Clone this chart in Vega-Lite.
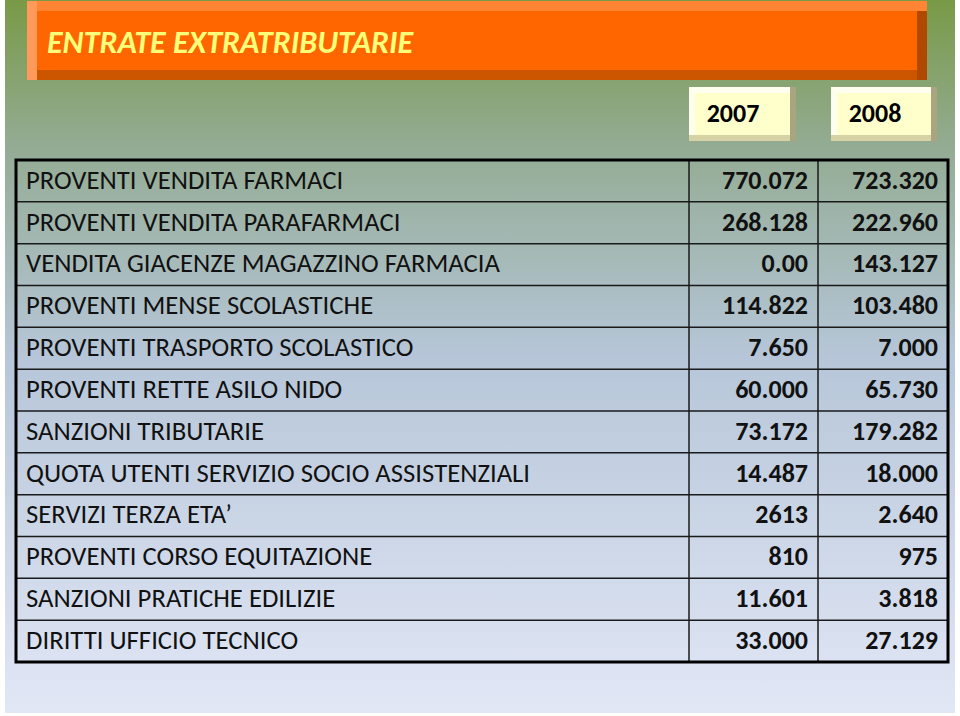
{
  "$schema": "https://vega.github.io/schema/vega-lite/v6.json",
  "width": 960,
  "height": 716,
  "autosize": {"type": "fit", "contains": "padding"},
  "padding": {"left": 5, "right": 5, "top": 0, "bottom": 3},
  "background": "white",
  "config": {"view": {"stroke": null}},
  "data": {"values": [
    {"riga": 1, "voce": "PROVENTI VENDITA FARMACI", "v2007": "770.072", "v2008": "723.320"},
    {"riga": 2, "voce": "PROVENTI VENDITA PARAFARMACI", "v2007": "268.128", "v2008": "222.960"},
    {"riga": 3, "voce": "VENDITA GIACENZE MAGAZZINO FARMACIA", "v2007": "0.00", "v2008": "143.127"},
    {"riga": 4, "voce": "PROVENTI MENSE SCOLASTICHE", "v2007": "114.822", "v2008": "103.480"},
    {"riga": 5, "voce": "PROVENTI TRASPORTO SCOLASTICO", "v2007": "7.650", "v2008": "7.000"},
    {"riga": 6, "voce": "PROVENTI RETTE ASILO NIDO", "v2007": "60.000", "v2008": "65.730"},
    {"riga": 7, "voce": "SANZIONI TRIBUTARIE", "v2007": "73.172", "v2008": "179.282"},
    {"riga": 8, "voce": "QUOTA UTENTI SERVIZIO SOCIO ASSISTENZIALI", "v2007": "14.487", "v2008": "18.000"},
    {"riga": 9, "voce": "SERVIZI TERZA ETA’", "v2007": "2613", "v2008": "2.640"},
    {"riga": 10, "voce": "PROVENTI CORSO EQUITAZIONE", "v2007": "810", "v2008": "975"},
    {"riga": 11, "voce": "SANZIONI PRATICHE EDILIZIE", "v2007": "11.601", "v2008": "3.818"},
    {"riga": 12, "voce": "DIRITTI UFFICIO TECNICO", "v2007": "33.000", "v2008": "27.129"}
  ]},
  "layer": [
    {
      "data": {"values": [{}]},
      "mark": {"type": "rect", "color": {"gradient": "linear", "x1": 0, "y1": 0, "x2": 0, "y2": 1, "stops": [
        {"offset": 0, "color": "#789a46"},
        {"offset": 0.2, "color": "#93ab92"},
        {"offset": 0.5, "color": "#b6c6d8"},
        {"offset": 1, "color": "#e2e7f6"}]}},
      "encoding": {
        "x": {"datum": 5, "type": "quantitative", "scale": {"domain": [5, 955], "nice": false, "zero": false}, "axis": null},
        "x2": {"datum": 955},
        "y": {"datum": -3.825, "type": "quantitative", "scale": {"domain": [-3.825, 13.22], "nice": false, "zero": false, "reverse": true}, "axis": null},
        "y2": {"datum": 13.22}
      }
    },
    {"data": {"values": [{}]}, "mark": {"type": "rect", "color": "#b04800"},
     "encoding": {"x": {"datum": 27, "type": "quantitative"}, "x2": {"datum": 927}, "y": {"datum": -3.801, "type": "quantitative"}, "y2": {"datum": -1.913}}},
    {"data": {"values": [{}]}, "mark": {"type": "rect", "color": "#cc5500"},
     "encoding": {"x": {"datum": 27, "type": "quantitative"}, "x2": {"datum": 917}, "y": {"datum": -2.152, "type": "quantitative"}, "y2": {"datum": -1.913}}},
    {"data": {"values": [{}]}, "mark": {"type": "rect", "color": "#ff8535"},
     "encoding": {"x": {"datum": 27, "type": "quantitative"}, "x2": {"datum": 927}, "y": {"datum": -3.801, "type": "quantitative"}, "y2": {"datum": -3.562}}},
    {"data": {"values": [{}]}, "mark": {"type": "rect", "color": "#ff9a5a"},
     "encoding": {"x": {"datum": 27, "type": "quantitative"}, "x2": {"datum": 37}, "y": {"datum": -3.801, "type": "quantitative"}, "y2": {"datum": -1.913}}},
    {"data": {"values": [{}]}, "mark": {"type": "rect", "color": "#ff6600"},
     "encoding": {"x": {"datum": 37, "type": "quantitative"}, "x2": {"datum": 917}, "y": {"datum": -3.562, "type": "quantitative"}, "y2": {"datum": -2.152}}},
    {"data": {"values": [{}]}, "mark": {"type": "text", "align": "left", "baseline": "middle", "font": "Carlito, Lato, sans-serif", "fontSize": 32, "fontWeight": "bold", "fontStyle": "italic", "color": "#ffff7a"},
     "encoding": {"x": {"datum": 47, "type": "quantitative"}, "y": {"datum": -2.8, "type": "quantitative"}, "text": {"value": "ENTRATE EXTRATRIBUTARIE"}}},

    {"data": {"values": [{}]}, "mark": {"type": "rect", "color": "#a9a57e"},
     "encoding": {"x": {"datum": 689, "type": "quantitative"}, "x2": {"datum": 796}, "y": {"datum": -1.745, "type": "quantitative"}, "y2": {"datum": -0.454}}},
    {"data": {"values": [{}]}, "mark": {"type": "rect", "color": "#d6d2a6"},
     "encoding": {"x": {"datum": 689, "type": "quantitative"}, "x2": {"datum": 790}, "y": {"datum": -0.598, "type": "quantitative"}, "y2": {"datum": -0.454}}},
    {"data": {"values": [{}]}, "mark": {"type": "rect", "color": "#fffff0"},
     "encoding": {"x": {"datum": 689, "type": "quantitative"}, "x2": {"datum": 790}, "y": {"datum": -1.745, "type": "quantitative"}, "y2": {"datum": -0.598}}},
    {"data": {"values": [{}]}, "mark": {"type": "rect", "color": "#ffffcc"},
     "encoding": {"x": {"datum": 695, "type": "quantitative"}, "x2": {"datum": 790}, "y": {"datum": -1.602, "type": "quantitative"}, "y2": {"datum": -0.598}}},

    {"data": {"values": [{}]}, "mark": {"type": "rect", "color": "#a9a57e"},
     "encoding": {"x": {"datum": 831, "type": "quantitative"}, "x2": {"datum": 937}, "y": {"datum": -1.745, "type": "quantitative"}, "y2": {"datum": -0.454}}},
    {"data": {"values": [{}]}, "mark": {"type": "rect", "color": "#d6d2a6"},
     "encoding": {"x": {"datum": 831, "type": "quantitative"}, "x2": {"datum": 931}, "y": {"datum": -0.598, "type": "quantitative"}, "y2": {"datum": -0.454}}},
    {"data": {"values": [{}]}, "mark": {"type": "rect", "color": "#fffff0"},
     "encoding": {"x": {"datum": 831, "type": "quantitative"}, "x2": {"datum": 931}, "y": {"datum": -1.745, "type": "quantitative"}, "y2": {"datum": -0.598}}},
    {"data": {"values": [{}]}, "mark": {"type": "rect", "color": "#ffffcc"},
     "encoding": {"x": {"datum": 837, "type": "quantitative"}, "x2": {"datum": 931}, "y": {"datum": -1.602, "type": "quantitative"}, "y2": {"datum": -0.598}}},

    {"data": {"values": [{}]}, "mark": {"type": "text", "align": "center", "baseline": "middle", "font": "Carlito, Lato, sans-serif", "fontSize": 26, "fontWeight": "bold", "color": "#000000"},
     "encoding": {"x": {"datum": 733, "type": "quantitative"}, "y": {"datum": -1.1, "type": "quantitative"}, "text": {"value": "2007"}}},
    {"data": {"values": [{}]}, "mark": {"type": "text", "align": "center", "baseline": "middle", "font": "Carlito, Lato, sans-serif", "fontSize": 26, "fontWeight": "bold", "color": "#000000"},
     "encoding": {"x": {"datum": 875, "type": "quantitative"}, "y": {"datum": -1.1, "type": "quantitative"}, "text": {"value": "2008"}}},

    {"mark": {"type": "rule", "color": "#1a1a1a", "strokeWidth": 1.5},
     "encoding": {"x": {"datum": 16, "type": "quantitative"}, "x2": {"datum": 948}, "y": {"field": "riga", "type": "quantitative"}}},
    {"data": {"values": [{}]}, "mark": {"type": "rule", "color": "#1a1a1a", "strokeWidth": 1.5},
     "encoding": {"x": {"datum": 689, "type": "quantitative"}, "y": {"datum": 0, "type": "quantitative"}, "y2": {"datum": 12}}},
    {"data": {"values": [{}]}, "mark": {"type": "rule", "color": "#1a1a1a", "strokeWidth": 1.5},
     "encoding": {"x": {"datum": 818, "type": "quantitative"}, "y": {"datum": 0, "type": "quantitative"}, "y2": {"datum": 12}}},
    {"data": {"values": [{}]}, "mark": {"type": "rect", "filled": false, "stroke": "#000000", "strokeWidth": 3},
     "encoding": {"x": {"datum": 16, "type": "quantitative"}, "x2": {"datum": 948}, "y": {"datum": 0, "type": "quantitative"}, "y2": {"datum": 12}}},

    {"mark": {"type": "text", "align": "left", "baseline": "middle", "dy": -21, "font": "Carlito, Lato, sans-serif", "fontSize": 26.7, "color": "#111111"},
     "encoding": {"x": {"datum": 26, "type": "quantitative"}, "y": {"field": "riga", "type": "quantitative"}, "text": {"field": "voce"}}},
    {"mark": {"type": "text", "align": "right", "baseline": "middle", "dy": -21, "font": "Carlito, Lato, sans-serif", "fontSize": 26, "fontWeight": "bold", "color": "#111111"},
     "encoding": {"x": {"datum": 808, "type": "quantitative"}, "y": {"field": "riga", "type": "quantitative"}, "text": {"field": "v2007"}}},
    {"mark": {"type": "text", "align": "right", "baseline": "middle", "dy": -21, "font": "Carlito, Lato, sans-serif", "fontSize": 26, "fontWeight": "bold", "color": "#111111"},
     "encoding": {"x": {"datum": 938, "type": "quantitative"}, "y": {"field": "riga", "type": "quantitative"}, "text": {"field": "v2008"}}}
  ]
}
